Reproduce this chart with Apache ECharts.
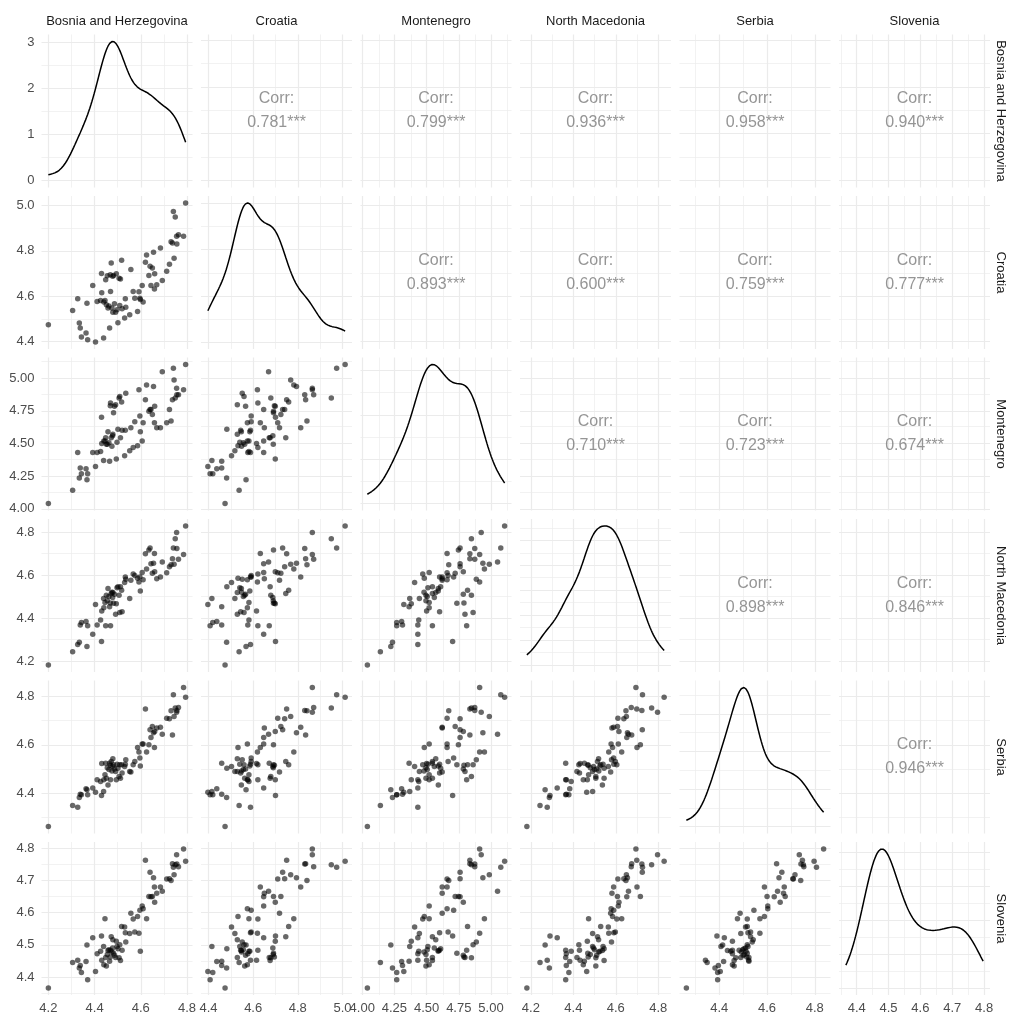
<!DOCTYPE html>
<html><head><meta charset="utf-8">
<script src="https://cdn.jsdelivr.net/npm/echarts@6/dist/echarts.min.js"></script>
<style>html,body{margin:0;padding:0;background:#fff}#c{width:1024px;height:1024px}</style>
</head><body><div id="c"></div>
<script>
// ---------- data ----------
const countries = ['Bosnia and Herzegovina','Croatia','Montenegro','North Macedonia','Serbia','Slovenia'];

const bosnia = [4.200,4.305,4.327,4.334,4.338,4.343,4.363,4.367,4.370,4.392,
4.404,4.411,4.426,4.430,4.431,4.439,4.440,4.445,4.448,4.451,
4.458,4.465,4.469,4.472,4.479,4.482,4.491,4.494,4.501,4.506,
4.509,4.512,4.517,4.519,4.530,4.533,4.535,4.552,4.557,4.567,
4.574,4.586,4.592,4.596,4.606,4.610,4.625,4.635,4.644,4.650,
4.659,4.660,4.669,4.685,4.693,4.712,4.655,4.640,4.724,4.731,
4.737,4.744,4.749,4.756,4.763,4.620,4.741,4.755,4.785,4.794,
4.455,4.462,4.468,4.475,4.478,4.486,4.497,4.598];

const croatia = [4.474,4.537,4.588,4.481,4.459,4.419,4.437,4.568,4.407,4.647,
4.397,4.576,4.581,4.700,4.615,4.415,4.574,4.581,4.672,4.562,
4.547,4.459,4.621,4.746,4.529,4.691,4.529,4.699,4.482,4.679,
4.559,4.676,4.759,4.544,4.503,4.588,4.551,4.518,4.718,4.621,
4.591,4.532,4.619,4.591,4.647,4.574,4.782,4.691,4.647,4.724,
4.632,4.699,4.650,4.813,4.669,4.710,4.794,4.732,4.741,4.841,
4.835,4.768,4.950,4.831,4.871,4.750,4.974,4.865,4.865,5.012,
4.690,4.556,4.695,4.548,4.688,4.566,4.540,4.585];

const montenegro = [4.040,4.141,4.432,4.235,4.313,4.268,4.306,4.222,4.268,4.432,
4.323,4.432,4.439,4.702,4.500,4.369,4.520,4.520,4.545,4.495,
4.591,4.364,4.811,4.545,4.571,4.735,4.798,4.381,4.609,4.848,
4.861,4.545,4.818,4.601,4.407,4.601,4.886,4.444,4.621,4.470,
4.667,4.482,4.912,4.710,4.520,4.659,4.949,4.747,4.760,4.722,
4.659,4.785,4.621,4.621,5.051,4.659,4.937,4.760,4.760,4.672,
4.836,4.987,4.848,4.874,4.874,4.836,5.076,4.924,4.912,5.106,
4.495,4.505,4.790,4.480,4.560,4.785,4.510,4.590];

const northMacedonia = [4.181,4.243,4.277,4.287,4.367,4.379,4.383,4.267,4.364,4.324,
4.463,4.367,4.390,4.290,4.432,4.491,4.447,4.472,4.364,4.506,
4.537,4.452,4.364,4.514,4.519,4.468,4.417,4.466,4.545,4.506,
4.426,4.545,4.529,4.429,4.565,4.591,4.580,4.491,4.576,4.605,
4.598,4.585,4.567,4.590,4.612,4.578,4.628,4.716,4.652,4.608,
4.700,4.615,4.582,4.590,4.660,4.610,4.655,4.725,4.638,4.648,
4.675,4.650,4.769,4.723,4.673,4.699,4.726,4.797,4.695,4.828,
4.480,4.500,4.470,4.520,4.495,4.510,4.540,4.525];

const serbia = [4.262,4.349,4.342,4.382,4.396,4.393,4.418,4.414,4.393,4.421,
4.404,4.455,4.448,4.390,4.523,4.407,4.455,4.476,4.524,4.462,
4.434,4.524,4.455,4.531,4.542,4.517,4.490,4.455,4.503,4.469,
4.517,4.462,4.517,4.483,4.510,4.520,4.538,4.490,4.487,4.517,
4.531,4.589,4.570,4.545,4.603,4.603,4.570,4.600,4.630,4.676,
4.589,4.655,4.669,4.672,4.644,4.710,4.650,4.662,4.708,4.741,
4.640,4.717,4.752,4.742,4.754,4.748,4.807,4.735,4.837,4.797,
4.505,4.498,4.515,4.492,4.510,4.500,4.520,4.512];

const slovenia = [4.366,4.445,4.452,4.428,4.436,4.414,4.448,4.499,4.392,4.522,
4.417,4.472,4.480,4.527,4.452,4.495,4.438,4.581,4.461,4.434,
4.482,4.449,4.483,4.525,4.516,4.474,4.461,4.511,4.488,4.460,
4.500,4.451,4.557,4.483,4.555,4.537,4.509,4.535,4.598,4.580,
4.540,4.588,4.536,4.607,4.620,4.612,4.581,4.650,4.649,4.650,
4.679,4.632,4.660,4.679,4.666,4.704,4.708,4.725,4.705,4.699,
4.751,4.717,4.748,4.750,4.742,4.762,4.740,4.779,4.797,4.759,
4.470,4.485,4.462,4.478,4.490,4.468,4.495,4.480];

// tick labels per variable
const ticksBosnia = ['4.2','4.4','4.6','4.8'];
const ticksCroatia = ['4.4','4.6','4.8','5.0'];
const ticksMontenegro = ['4.00','4.25','4.50','4.75','5.00'];
const ticksNorthMacedonia = ['4.2','4.4','4.6','4.8'];
const ticksSerbia = ['4.4','4.6','4.8'];
const ticksSlovenia = ['4.4','4.5','4.6','4.7','4.8'];
const ticksDensityBosnia = ['0','1','2','3'];

// correlation labels (upper triangle, row by row)
const corrBosnia = ['0.781***','0.799***','0.936***','0.958***','0.940***'];
const corrCroatia = ['0.893***','0.600***','0.759***','0.777***'];
const corrMontenegro = ['0.710***','0.723***','0.674***'];
const corrNorthMacedonia = ['0.898***','0.846***'];
const corrSerbia = ['0.946***'];

// ---------- build ----------
const vals = [bosnia, croatia, montenegro, northMacedonia, serbia, slovenia];
const tickLabels = [ticksBosnia, ticksCroatia, ticksMontenegro, ticksNorthMacedonia, ticksSerbia, ticksSlovenia];
const corrRows = [corrBosnia, corrCroatia, corrMontenegro, corrNorthMacedonia, corrSerbia];

const FONT = '"Liberation Sans", Arial, sans-serif';
const PL = 41.5, PW = 151, PSX = 159.5;
const PT = 34.5, PH = 153, PSY = 161.5;
const N = 6;

function ext(a) {
  const mn = Math.min(...a), mx = Math.max(...a), d = mx - mn;
  return [mn - 0.05 * d, mx + 0.05 * d];
}
function minorsOf(majors, range) {
  const step = majors[1] - majors[0];
  const out = [];
  for (let k = -1; k < majors.length; k++) {
    const v = majors[0] + (k + 0.5) * step;
    if (v > range[0] && v < range[1]) out.push(v);
  }
  return out;
}
function quantile(sorted, p) {
  const h = (sorted.length - 1) * p, lo = Math.floor(h);
  return sorted[lo] + (h - lo) * ((sorted[lo + 1] ?? sorted[lo]) - sorted[lo]);
}
function kde(a) {
  const n = a.length;
  const m = a.reduce((s, v) => s + v, 0) / n;
  const sd = Math.sqrt(a.reduce((s, v) => s + (v - m) * (v - m), 0) / (n - 1));
  const s = [...a].sort((x, y) => x - y);
  const iqr = quantile(s, 0.75) - quantile(s, 0.25);
  const bw = 0.9 * Math.min(sd, iqr / 1.34) * Math.pow(n, -0.2);
  const lo = s[0], hi = s[n - 1], pts = 256, out = [];
  for (let i = 0; i < pts; i++) {
    const x = lo + (hi - lo) * i / (pts - 1);
    let d = 0;
    for (const v of a) { const z = (x - v) / bw; d += Math.exp(-0.5 * z * z); }
    out.push([x, d / (n * bw * Math.sqrt(2 * Math.PI))]);
  }
  return out;
}
function prettyTicks(lo, hi) {
  const raw = (hi - lo) / 5;
  const p = Math.pow(10, Math.floor(Math.log10(raw)));
  let best = null;
  for (const f of [1, 2, 2.5, 5, 10]) {
    const st = f * p;
    const t = [];
    for (let v = Math.ceil(lo / st) * st; v <= hi + 1e-9; v += st) t.push(+v.toFixed(6));
    const sc = Math.abs(t.length - 5);
    if (!best || sc < best.sc) best = { sc, t };
  }
  return best.t;
}

const ranges = vals.map(ext);
const majorNums = tickLabels.map(t => t.map(Number));

const grids = [], xAxes = [], yAxes = [], series = [];
const axisLabelBase = { color: '#4D4D4D', fontSize: 13, fontFamily: FONT };

function labelFormatter(nums, labels) {
  return function (v) {
    let bi = 0, bd = Infinity;
    nums.forEach((n, i) => { const d = Math.abs(n - v); if (d < bd) { bd = d; bi = i; } });
    return labels[bi];
  };
}

let k = 0;
for (let r = 0; r < N; r++) {
  for (let c = 0; c < N; c++) {
    grids.push({ left: PL + c * PSX, top: PT + r * PSY, width: PW, height: PH, containLabel: false });
    const xr = ranges[c];
    xAxes.push({
      gridIndex: k, type: 'value', min: xr[0], max: xr[1],
      axisLine: { show: false }, axisTick: { show: false }, splitLine: { show: false },
      axisLabel: Object.assign({ show: r === N - 1, margin: 7, customValues: majorNums[c],
        formatter: labelFormatter(majorNums[c], tickLabels[c]) }, axisLabelBase)
    });
    let yr, yMaj, yLab, dens = null;
    if (r === c) {
      dens = kde(vals[c]);
      const dmax = Math.max(...dens.map(p => p[1]));
      yr = [-0.05 * dmax, 1.05 * dmax];
      if (r === 0) { yMaj = ticksDensityBosnia.map(Number); yLab = ticksDensityBosnia; }
      else { yMaj = prettyTicks(0, yr[1]); yLab = yMaj.map(String); }
    } else {
      yr = ranges[r]; yMaj = majorNums[r]; yLab = tickLabels[r];
    }
    yAxes.push({
      gridIndex: k, type: 'value', min: yr[0], max: yr[1],
      axisLine: { show: false }, axisTick: { show: false }, splitLine: { show: false },
      axisLabel: Object.assign({ show: c === 0, margin: 7, customValues: yMaj,
        formatter: labelFormatter(yMaj, yLab) }, axisLabelBase)
    });
    // grid lines
    const xMin = minorsOf(majorNums[c], xr), yMin = minorsOf(yMaj, yr);
    const ml = [];
    xMin.forEach(v => ml.push({ xAxis: v, lineStyle: { width: 0.7, color: '#EDEDED' } }));
    yMin.forEach(v => ml.push({ yAxis: v, lineStyle: { width: 0.7, color: '#EDEDED' } }));
    majorNums[c].forEach(v => { if (v >= xr[0] && v <= xr[1]) ml.push({ xAxis: v, lineStyle: { width: 1.2, color: '#EBEBEB' } }); });
    yMaj.forEach(v => { if (v >= yr[0] && v <= yr[1]) ml.push({ yAxis: v, lineStyle: { width: 1.2, color: '#EBEBEB' } }); });
    series.push({
      type: 'scatter', xAxisIndex: k, yAxisIndex: k, data: [], z: 1, silent: true,
      markLine: { silent: true, z: 1, symbol: ['none', 'none'], label: { show: false },
        lineStyle: { type: 'solid' }, animation: false, data: ml }
    });
    if (r > c) {
      series.push({
        type: 'scatter', xAxisIndex: k, yAxisIndex: k, z: 3, symbolSize: 5.5,
        itemStyle: { color: 'rgba(0,0,0,0.74)' },
        data: vals[c].map((v, i) => [v, vals[r][i]])
      });
    } else if (r === c) {
      series.push({
        type: 'line', xAxisIndex: k, yAxisIndex: k, z: 3, showSymbol: false, symbol: 'none',
        lineStyle: { color: '#000', width: 1.5 }, data: dens
      });
    } else {
      const lab = corrRows[r][c - r - 1];
      series.push({
        type: 'scatter', xAxisIndex: k, yAxisIndex: k, z: 3, symbolSize: 0,
        data: [[(xr[0] + xr[1]) / 2, (yr[0] + yr[1]) / 2]],
        label: { show: true, position: 'inside', formatter: 'Corr:\n' + lab,
          fontSize: 16, lineHeight: 24, color: '#7A7A7A', fontFamily: FONT, align: 'center' }
      });
    }
    k++;
  }
}

const graphics = [];
countries.forEach((name, i) => {
  graphics.push({ type: 'text', x: PL + i * PSX + PW / 2, y: 21,
    style: { text: name, font: '13px ' + FONT, fill: '#1A1A1A', textAlign: 'center', textVerticalAlign: 'middle' } });
  graphics.push({ type: 'text', x: 1001, y: PT + i * PSY + PH / 2, rotation: -Math.PI / 2,
    style: { text: name, font: '13px ' + FONT, fill: '#1A1A1A', textAlign: 'center', textVerticalAlign: 'middle' } });
});

const chart = echarts.init(document.getElementById('c'), null, { renderer: 'canvas' });
chart.setOption({
  animation: false,
  backgroundColor: '#fff',
  grid: grids, xAxis: xAxes, yAxis: yAxes, series: series, graphic: graphics
});
</script></body></html>
